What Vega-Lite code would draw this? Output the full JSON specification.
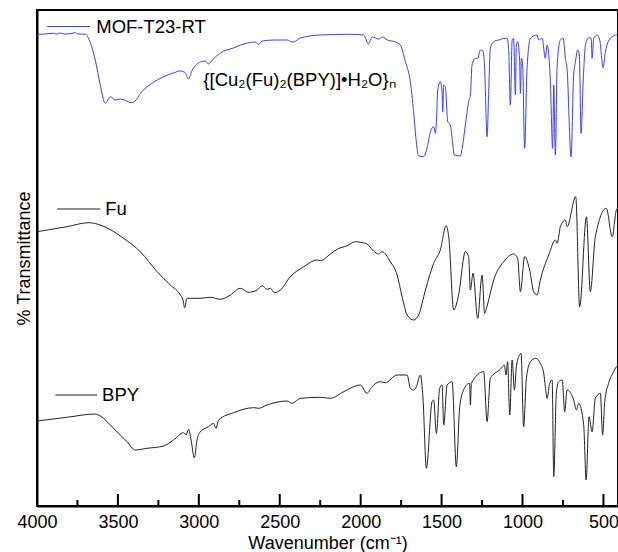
{
  "$schema": "https://vega.github.io/schema/vega-lite/v6.json",
  "width": 581,
  "height": 496,
  "autosize": {"type": "none"},
  "padding": {"left": 37, "top": 10, "right": 0, "bottom": 46},
  "background": "white",
  "config": {
    "font": "Liberation Sans",
    "view": {"stroke": "black", "strokeWidth": 2}
  },
  "datasets": {
    "spectra": [
      {"s":"MOF","wn":4000,"t":471.7},{"s":"MOF","wn":3950,"t":472},{"s":"MOF","wn":3900,"t":472.8},{"s":"MOF","wn":3880,"t":471.8},{"s":"MOF","wn":3856,"t":473},{"s":"MOF","wn":3830,"t":472},{"s":"MOF","wn":3790,"t":472.3},{"s":"MOF","wn":3763,"t":473.5},{"s":"MOF","wn":3750,"t":472},{"s":"MOF","wn":3701,"t":471.7},{"s":"MOF","wn":3683,"t":468},{"s":"MOF","wn":3640,"t":446},{"s":"MOF","wn":3609,"t":421},{"s":"MOF","wn":3578,"t":402.7},{"s":"MOF","wn":3547,"t":409.3},{"s":"MOF","wn":3516,"t":406},{"s":"MOF","wn":3485,"t":407},{"s":"MOF","wn":3413,"t":403.3},{"s":"MOF","wn":3343,"t":416},{"s":"MOF","wn":3257,"t":426},{"s":"MOF","wn":3158,"t":433},{"s":"MOF","wn":3114,"t":435},{"s":"MOF","wn":3083,"t":433},{"s":"MOF","wn":3065,"t":427},{"s":"MOF","wn":3040,"t":436},{"s":"MOF","wn":2991,"t":444},{"s":"MOF","wn":2960,"t":445},{"s":"MOF","wn":2941,"t":442},{"s":"MOF","wn":2917,"t":446},{"s":"MOF","wn":2867,"t":453},{"s":"MOF","wn":2787,"t":458},{"s":"MOF","wn":2700,"t":463},{"s":"MOF","wn":2651,"t":464},{"s":"MOF","wn":2632,"t":461.5},{"s":"MOF","wn":2608,"t":465},{"s":"MOF","wn":2527,"t":466},{"s":"MOF","wn":2453,"t":466},{"s":"MOF","wn":2435,"t":464.5},{"s":"MOF","wn":2416,"t":464},{"s":"MOF","wn":2373,"t":468},{"s":"MOF","wn":2249,"t":471},{"s":"MOF","wn":2064,"t":471.7},{"s":"MOF","wn":1983,"t":471},{"s":"MOF","wn":1965,"t":466},{"s":"MOF","wn":1953,"t":462},{"s":"MOF","wn":1928,"t":469},{"s":"MOF","wn":1891,"t":467},{"s":"MOF","wn":1866,"t":469},{"s":"MOF","wn":1835,"t":466},{"s":"MOF","wn":1786,"t":464},{"s":"MOF","wn":1755,"t":461},{"s":"MOF","wn":1724,"t":444.3},{"s":"MOF","wn":1693,"t":424.3},{"s":"MOF","wn":1673,"t":394.3},{"s":"MOF","wn":1652,"t":358},{"s":"MOF","wn":1642,"t":350},{"s":"MOF","wn":1611,"t":349.3},{"s":"MOF","wn":1590,"t":357.7},{"s":"MOF","wn":1569,"t":374.3},{"s":"MOF","wn":1549,"t":379.3},{"s":"MOF","wn":1538,"t":372.7},{"s":"MOF","wn":1532,"t":384.3},{"s":"MOF","wn":1524,"t":416},{"s":"MOF","wn":1508,"t":424.3},{"s":"MOF","wn":1497,"t":414.3},{"s":"MOF","wn":1493,"t":394.3},{"s":"MOF","wn":1487,"t":421},{"s":"MOF","wn":1477,"t":419.3},{"s":"MOF","wn":1462,"t":384.3},{"s":"MOF","wn":1446,"t":381},{"s":"MOF","wn":1435,"t":367.7},{"s":"MOF","wn":1421,"t":351},{"s":"MOF","wn":1384,"t":350},{"s":"MOF","wn":1373,"t":357.7},{"s":"MOF","wn":1353,"t":381},{"s":"MOF","wn":1333,"t":404.3},{"s":"MOF","wn":1322,"t":411},{"s":"MOF","wn":1312,"t":441},{"s":"MOF","wn":1291,"t":447.7},{"s":"MOF","wn":1277,"t":447.7},{"s":"MOF","wn":1260,"t":456},{"s":"MOF","wn":1244,"t":455},{"s":"MOF","wn":1234,"t":437.7},{"s":"MOF","wn":1219,"t":369.3},{"s":"MOF","wn":1209,"t":414.3},{"s":"MOF","wn":1199,"t":457.7},{"s":"MOF","wn":1178,"t":464.3},{"s":"MOF","wn":1147,"t":466},{"s":"MOF","wn":1106,"t":467.7},{"s":"MOF","wn":1095,"t":467.7},{"s":"MOF","wn":1086,"t":457.7},{"s":"MOF","wn":1075,"t":401},{"s":"MOF","wn":1064,"t":466},{"s":"MOF","wn":1055,"t":467.7},{"s":"MOF","wn":1044,"t":411},{"s":"MOF","wn":1038,"t":461},{"s":"MOF","wn":1030,"t":464.3},{"s":"MOF","wn":1018,"t":446},{"s":"MOF","wn":1013,"t":412.7},{"s":"MOF","wn":1007,"t":447.7},{"s":"MOF","wn":999,"t":441},{"s":"MOF","wn":987,"t":357.7},{"s":"MOF","wn":972,"t":437.7},{"s":"MOF","wn":951,"t":467.7},{"s":"MOF","wn":910,"t":471},{"s":"MOF","wn":900,"t":466},{"s":"MOF","wn":879,"t":467.7},{"s":"MOF","wn":859,"t":447.7},{"s":"MOF","wn":848,"t":461},{"s":"MOF","wn":828,"t":424.3},{"s":"MOF","wn":814,"t":357.7},{"s":"MOF","wn":807,"t":421},{"s":"MOF","wn":797,"t":351},{"s":"MOF","wn":786,"t":441},{"s":"MOF","wn":766,"t":466},{"s":"MOF","wn":749,"t":467.7},{"s":"MOF","wn":735,"t":447.7},{"s":"MOF","wn":725,"t":437.7},{"s":"MOF","wn":700,"t":349.3},{"s":"MOF","wn":684,"t":431},{"s":"MOF","wn":673,"t":444.3},{"s":"MOF","wn":659,"t":456},{"s":"MOF","wn":649,"t":451},{"s":"MOF","wn":638,"t":372.7},{"s":"MOF","wn":626,"t":421},{"s":"MOF","wn":611,"t":461},{"s":"MOF","wn":591,"t":468.3},{"s":"MOF","wn":576,"t":467.7},{"s":"MOF","wn":570,"t":447.7},{"s":"MOF","wn":560,"t":467.7},{"s":"MOF","wn":539,"t":471},{"s":"MOF","wn":523,"t":466},{"s":"MOF","wn":502,"t":438.3},{"s":"MOF","wn":488,"t":454.3},{"s":"MOF","wn":457,"t":467.7},{"s":"MOF","wn":426,"t":471},{"s":"MOF","wn":410,"t":472},
      {"s":"Fu","wn":4000,"t":274.3},{"s":"Fu","wn":3815,"t":279.3},{"s":"Fu","wn":3681,"t":283.3},{"s":"Fu","wn":3609,"t":281},{"s":"Fu","wn":3465,"t":267.7},{"s":"Fu","wn":3362,"t":254.3},{"s":"Fu","wn":3258,"t":234.3},{"s":"Fu","wn":3176,"t":221},{"s":"Fu","wn":3114,"t":211},{"s":"Fu","wn":3098,"t":206},{"s":"Fu","wn":3088,"t":198.3},{"s":"Fu","wn":3073,"t":207.7},{"s":"Fu","wn":2991,"t":207.7},{"s":"Fu","wn":2929,"t":208.7},{"s":"Fu","wn":2867,"t":206.7},{"s":"Fu","wn":2805,"t":211},{"s":"Fu","wn":2744,"t":217.7},{"s":"Fu","wn":2692,"t":213.7},{"s":"Fu","wn":2640,"t":216},{"s":"Fu","wn":2609,"t":220.3},{"s":"Fu","wn":2579,"t":216.7},{"s":"Fu","wn":2558,"t":217.7},{"s":"Fu","wn":2533,"t":213.3},{"s":"Fu","wn":2496,"t":216},{"s":"Fu","wn":2435,"t":229.3},{"s":"Fu","wn":2352,"t":239.3},{"s":"Fu","wn":2270,"t":246},{"s":"Fu","wn":2249,"t":245.3},{"s":"Fu","wn":2187,"t":252},{"s":"Fu","wn":2146,"t":256.7},{"s":"Fu","wn":2084,"t":260.3},{"s":"Fu","wn":2033,"t":264.3},{"s":"Fu","wn":2002,"t":263.7},{"s":"Fu","wn":1961,"t":262},{"s":"Fu","wn":1920,"t":255},{"s":"Fu","wn":1889,"t":252},{"s":"Fu","wn":1868,"t":254.3},{"s":"Fu","wn":1817,"t":244.3},{"s":"Fu","wn":1775,"t":231},{"s":"Fu","wn":1744,"t":209.3},{"s":"Fu","wn":1713,"t":191},{"s":"Fu","wn":1673,"t":186},{"s":"Fu","wn":1642,"t":191},{"s":"Fu","wn":1600,"t":216},{"s":"Fu","wn":1549,"t":242.7},{"s":"Fu","wn":1508,"t":256},{"s":"Fu","wn":1472,"t":280.3},{"s":"Fu","wn":1456,"t":269.3},{"s":"Fu","wn":1425,"t":196},{"s":"Fu","wn":1395,"t":211},{"s":"Fu","wn":1353,"t":254.3},{"s":"Fu","wn":1333,"t":249.3},{"s":"Fu","wn":1322,"t":216},{"s":"Fu","wn":1306,"t":232.7},{"s":"Fu","wn":1277,"t":187.7},{"s":"Fu","wn":1250,"t":231},{"s":"Fu","wn":1234,"t":192.7},{"s":"Fu","wn":1219,"t":200},{"s":"Fu","wn":1178,"t":226},{"s":"Fu","wn":1116,"t":244.3},{"s":"Fu","wn":1055,"t":252},{"s":"Fu","wn":1030,"t":247.7},{"s":"Fu","wn":1013,"t":214.3},{"s":"Fu","wn":987,"t":249.3},{"s":"Fu","wn":956,"t":236},{"s":"Fu","wn":931,"t":214.3},{"s":"Fu","wn":910,"t":211},{"s":"Fu","wn":890,"t":226},{"s":"Fu","wn":838,"t":251},{"s":"Fu","wn":797,"t":266},{"s":"Fu","wn":786,"t":262.7},{"s":"Fu","wn":766,"t":279.3},{"s":"Fu","wn":735,"t":286},{"s":"Fu","wn":725,"t":279.3},{"s":"Fu","wn":671,"t":309.3},{"s":"Fu","wn":647,"t":199.3},{"s":"Fu","wn":605,"t":289.3},{"s":"Fu","wn":581,"t":214.3},{"s":"Fu","wn":550,"t":269.3},{"s":"Fu","wn":482,"t":297.7},{"s":"Fu","wn":446,"t":269.3},{"s":"Fu","wn":420,"t":296},{"s":"Fu","wn":410,"t":298},
      {"s":"BPY","wn":4000,"t":85},{"s":"BPY","wn":3815,"t":88.7},{"s":"BPY","wn":3640,"t":92},{"s":"BPY","wn":3609,"t":90},{"s":"BPY","wn":3527,"t":77.7},{"s":"BPY","wn":3444,"t":64.3},{"s":"BPY","wn":3393,"t":56},{"s":"BPY","wn":3320,"t":57.7},{"s":"BPY","wn":3218,"t":60},{"s":"BPY","wn":3156,"t":66},{"s":"BPY","wn":3094,"t":73.3},{"s":"BPY","wn":3079,"t":71},{"s":"BPY","wn":3063,"t":76.7},{"s":"BPY","wn":3048,"t":66},{"s":"BPY","wn":3028,"t":48.3},{"s":"BPY","wn":3011,"t":66},{"s":"BPY","wn":2991,"t":74.3},{"s":"BPY","wn":2960,"t":77.7},{"s":"BPY","wn":2940,"t":79.3},{"s":"BPY","wn":2909,"t":82.7},{"s":"BPY","wn":2894,"t":77.7},{"s":"BPY","wn":2878,"t":86},{"s":"BPY","wn":2785,"t":93.3},{"s":"BPY","wn":2661,"t":98.3},{"s":"BPY","wn":2630,"t":97.7},{"s":"BPY","wn":2579,"t":101},{"s":"BPY","wn":2455,"t":105},{"s":"BPY","wn":2424,"t":102.7},{"s":"BPY","wn":2373,"t":107.7},{"s":"BPY","wn":2249,"t":108.7},{"s":"BPY","wn":2187,"t":107.7},{"s":"BPY","wn":2105,"t":114.3},{"s":"BPY","wn":2002,"t":121},{"s":"BPY","wn":1961,"t":112.7},{"s":"BPY","wn":1930,"t":119.3},{"s":"BPY","wn":1878,"t":124.3},{"s":"BPY","wn":1848,"t":123.3},{"s":"BPY","wn":1775,"t":131},{"s":"BPY","wn":1713,"t":131},{"s":"BPY","wn":1693,"t":117.7},{"s":"BPY","wn":1673,"t":116},{"s":"BPY","wn":1656,"t":119.3},{"s":"BPY","wn":1631,"t":131},{"s":"BPY","wn":1615,"t":107.7},{"s":"BPY","wn":1594,"t":37.7},{"s":"BPY","wn":1559,"t":104.3},{"s":"BPY","wn":1549,"t":106},{"s":"BPY","wn":1532,"t":72.7},{"s":"BPY","wn":1512,"t":117.7},{"s":"BPY","wn":1497,"t":121},{"s":"BPY","wn":1487,"t":81},{"s":"BPY","wn":1466,"t":121},{"s":"BPY","wn":1435,"t":124.3},{"s":"BPY","wn":1409,"t":39.3},{"s":"BPY","wn":1388,"t":99.3},{"s":"BPY","wn":1364,"t":116},{"s":"BPY","wn":1327,"t":122.7},{"s":"BPY","wn":1322,"t":101},{"s":"BPY","wn":1316,"t":122.7},{"s":"BPY","wn":1240,"t":134.3},{"s":"BPY","wn":1219,"t":84.3},{"s":"BPY","wn":1199,"t":127.7},{"s":"BPY","wn":1137,"t":136.7},{"s":"BPY","wn":1112,"t":141},{"s":"BPY","wn":1102,"t":131},{"s":"BPY","wn":1092,"t":144.3},{"s":"BPY","wn":1079,"t":91},{"s":"BPY","wn":1064,"t":146},{"s":"BPY","wn":1050,"t":116},{"s":"BPY","wn":1038,"t":139.3},{"s":"BPY","wn":1018,"t":151},{"s":"BPY","wn":1009,"t":152.7},{"s":"BPY","wn":993,"t":79.3},{"s":"BPY","wn":976,"t":127.7},{"s":"BPY","wn":951,"t":144.3},{"s":"BPY","wn":920,"t":147.7},{"s":"BPY","wn":890,"t":142.7},{"s":"BPY","wn":869,"t":132.7},{"s":"BPY","wn":859,"t":119.3},{"s":"BPY","wn":848,"t":107.7},{"s":"BPY","wn":832,"t":122.7},{"s":"BPY","wn":817,"t":126},{"s":"BPY","wn":807,"t":29.3},{"s":"BPY","wn":791,"t":112.7},{"s":"BPY","wn":777,"t":124.3},{"s":"BPY","wn":755,"t":126},{"s":"BPY","wn":739,"t":94.3},{"s":"BPY","wn":725,"t":116},{"s":"BPY","wn":684,"t":106},{"s":"BPY","wn":667,"t":96},{"s":"BPY","wn":653,"t":102.7},{"s":"BPY","wn":622,"t":81},{"s":"BPY","wn":607,"t":26},{"s":"BPY","wn":589,"t":89.3},{"s":"BPY","wn":570,"t":74.3},{"s":"BPY","wn":550,"t":107.7},{"s":"BPY","wn":519,"t":112.7},{"s":"BPY","wn":505,"t":71},{"s":"BPY","wn":492,"t":104.3},{"s":"BPY","wn":468,"t":122.7},{"s":"BPY","wn":437,"t":134.3},{"s":"BPY","wn":420,"t":139.3},{"s":"BPY","wn":410,"t":141}
    ]
  },
  "layer": [
    {
      "data": {"name": "spectra"},
      "mark": {"type": "line", "strokeWidth": 1, "clip": true, "interpolate": "monotone"},
      "encoding": {
        "x": {
          "field": "wn", "type": "quantitative",
          "scale": {"domain": [4000, 410], "nice": false, "zero": false},
          "axis": {
            "values": [4000, 3500, 3000, 2500, 2000, 1500, 1000, 500],
            "format": "d",
            "title": "Wavenumber (cm⁻¹)",
            "titleFontSize": 18, "titleFontWeight": "normal", "titleColor": "black", "titlePadding": 3,
            "labelFontSize": 18, "labelColor": "black", "labelPadding": 7,
            "labelFlush": false, "labelOverlap": false,
            "ticks": false,
            "domainColor": "black", "domainWidth": 2, "grid": false
          }
        },
        "y": {
          "field": "t", "type": "quantitative",
          "scale": {"domain": [0, 496], "nice": false, "zero": false},
          "axis": {
            "title": "% Transmittance", "titleFontSize": 18, "titleFontWeight": "normal",
            "titleColor": "black", "titlePadding": 4,
            "ticks": false, "labels": false, "grid": false,
            "domainColor": "black", "domainWidth": 2
          }
        },
        "color": {
          "field": "s", "type": "nominal",
          "scale": {"domain": ["MOF", "Fu", "BPY"], "range": ["#3c3cff", "#222222", "#222222"]},
          "legend": null
        }
      }
    },
    {
      "data": {"values": [{"wn": 3750}, {"wn": 3250}, {"wn": 2750}, {"wn": 2250}, {"wn": 1750}, {"wn": 1250}, {"wn": 750}]},
      "mark": {"type": "rule", "strokeWidth": 2, "color": "black"},
      "encoding": {
        "x": {"field": "wn", "type": "quantitative"},
        "y": {"datum": 0, "type": "quantitative"},
        "y2": {"datum": 6}
      }
    },
    {
      "data": {"values": [{"wn": 3500}, {"wn": 3000}, {"wn": 2500}, {"wn": 2000}, {"wn": 1500}, {"wn": 1000}, {"wn": 500}]},
      "mark": {"type": "rule", "strokeWidth": 2, "color": "black"},
      "encoding": {
        "x": {"field": "wn", "type": "quantitative"},
        "y": {"datum": 0, "type": "quantitative"},
        "y2": {"datum": 12}
      }
    },
    {
      "data": {"values": [
        {"s": "MOF", "wn": 3938, "wn2": 3671, "t": 479.5},
        {"s": "Fu", "wn": 3876, "wn2": 3609, "t": 297},
        {"s": "BPY", "wn": 3887, "wn2": 3629, "t": 111}
      ]},
      "mark": {"type": "rule", "strokeWidth": 1},
      "encoding": {
        "x": {"field": "wn", "type": "quantitative"},
        "x2": {"field": "wn2"},
        "y": {"field": "t", "type": "quantitative"},
        "color": {"field": "s", "type": "nominal", "legend": null}
      }
    },
    {
      "data": {"values": [
        {"wn": 3634, "t": 479.5, "label": "MOF-T23-RT"},
        {"wn": 3578, "t": 297, "label": "Fu"},
        {"wn": 3598, "t": 111, "label": "BPY"},
        {"wn": 2972, "t": 426, "label": "{[Cu₂(Fu)₂(BPY)]•H₂O}ₙ"}
      ]},
      "mark": {"type": "text", "align": "left", "baseline": "middle", "fontSize": 18.5, "color": "black"},
      "encoding": {
        "x": {"field": "wn", "type": "quantitative"},
        "y": {"field": "t", "type": "quantitative"},
        "text": {"field": "label"}
      }
    }
  ]
}
